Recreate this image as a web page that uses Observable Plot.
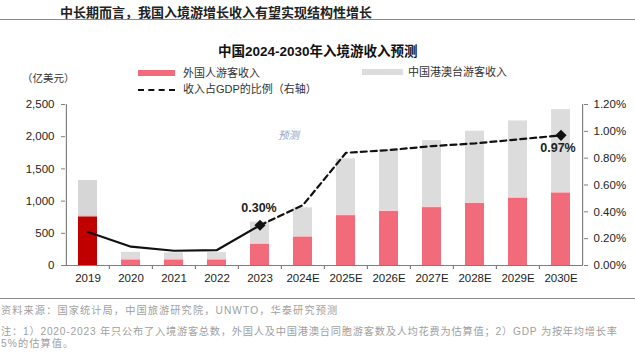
<!DOCTYPE html>
<html><head><meta charset="utf-8">
<script src="https://cdn.jsdelivr.net/npm/d3@7"></script>
<script src="https://cdn.jsdelivr.net/npm/@observablehq/plot@0.6"></script>
<style>
html,body{margin:0;padding:0;background:#fff;}
#wrap{position:relative;width:635px;height:356px;overflow:hidden;font-family:"Liberation Sans",Arial,"Noto Sans CJK SC",sans-serif;}
#wrap svg.chart{position:absolute;left:0;top:0;}
.t{position:absolute;white-space:nowrap;line-height:1;}
</style></head>
<body><div id="wrap"></div>
<script>
const years = ["2019","2020","2021","2022","2023","2024E","2025E","2026E","2027E","2028E","2029E","2030E"];
const foreign = [770,100,100,100,345,456,790,855,915,980,1060,1140];
const hmt = [550,105,97,100,330,440,865,940,1025,1105,1185,1280];
const gdpShare = [0.25,0.14,0.11,0.115,0.30,0.45,0.84,0.86,0.89,0.91,0.94,0.97];
const leftTicks = [0,500,1000,1500,2000,2500];
const rightTicks = [0,0.2,0.4,0.6,0.8,1.0,1.2];
const labelIdx = [4,11];

const W = 635, H = 356;
const mL = 65, mR = 52, mT = 104, mB = 91;
const bw = (W - mL - mR) / years.length;
const yMax = 2500, pMax = 1.2;
const toY = p => p / pMax * yMax;

const redC = "#f26b7a", darkRed = "#c00000", grayC = "#dcdcdc", gray19 = "#d6d6d6";

const bars = [];
years.forEach((y,i) => {
  bars.push({year:y, key:0, value:foreign[i], fill: i===0 ? darkRed : redC});
  bars.push({year:y, key:1, value:hmt[i], fill: i===0 ? gray19 : grayC});
});
const pts = years.map((y,i) => ({year:y, v: toY(gdpShare[i]), p: gdpShare[i]}));
const solid = pts.slice(0,5);
const dashed = pts.slice(4);
const labeled = labelIdx.map(i => pts[i]);
const fmtP = d => d.p.toFixed(2) + "%";

const axisColor = "#7f7f7f";
const chart = Plot.plot({
  width: W, height: H,
  marginLeft: mL, marginRight: mR, marginTop: mT, marginBottom: mB,
  style: {fontFamily: '"Liberation Sans", Arial, sans-serif', fontSize: "11.5px", color: "#222", background: "transparent"},
  x: {domain: years, padding: 0, axis: null},
  y: {domain: [0, yMax], axis: null},
  color: {type: "identity"},
  marks: [
    Plot.barY(bars, {x: "year", y: "value", fill: "fill", order: "key", insetLeft: 12, insetRight: 12}),
    Plot.tickY(years.map((y,i)=>({year:y, v:foreign[i]})), {x: "year", y: "v", stroke: "#fbd0d2", strokeWidth: 1.2, insetLeft: 12, insetRight: 12}),
    Plot.ruleY([0], {stroke: axisColor, strokeWidth: 1.2}),
    Plot.ruleX([years[0]], {dx: -bw/2, y1: 0, y2: yMax, stroke: axisColor, strokeWidth: 1.2}),
    Plot.ruleX([years[years.length-1]], {dx: bw/2, y1: 0, y2: yMax, stroke: axisColor, strokeWidth: 1.2}),
    Plot.ruleX(years.slice(1), {dx: -bw/2, y1: 0, y2: -62, stroke: axisColor, strokeWidth: 1.2}),
    Plot.axisY(leftTicks, {anchor: "left", label: null, tickSize: 4, tickPadding: 7, stroke: axisColor, tickFormat: d => d3.format(",")(d), fill: "#222", fontSize: 11.5}),
    Plot.axisY(rightTicks.map(toY), {anchor: "right", label: null, tickSize: 4, tickPadding: 6, stroke: axisColor, tickFormat: d => (d / yMax * pMax).toFixed(2) + "%", fill: "#222", fontSize: 11.5}),
    Plot.axisX(years, {anchor: "bottom", label: null, tickSize: 0, tickPadding: 8, fill: "#222", fontSize: 11.5}),
    Plot.line(solid, {x: "year", y: "v", stroke: "#111", strokeWidth: 2.2}),
    Plot.line(dashed, {x: "year", y: "v", stroke: "#111", strokeWidth: 2.2, strokeDasharray: "6,4"}),
    Plot.dot(labeled, {x: "year", y: "v", symbol: "diamond2", r: 5, fill: "#111", stroke: "none"}),
    Plot.text([labeled[0]], {x: "year", y: "v", text: fmtP, dy: -17, dx: -1, fontWeight: "bold", fontSize: 12.5, fill: "#222"}),
    Plot.text([labeled[1]], {x: "year", y: "v", text: fmtP, dy: 13, dx: -3, fontWeight: "bold", fontSize: 12.5, fill: "#222"})
  ]
});
chart.classList.add("chart");
const wrap = document.getElementById("wrap");
wrap.appendChild(chart);

function addText(txt, css){
  const d = document.createElement("div");
  d.className = "t";
  d.textContent = txt;
  Object.assign(d.style, css);
  wrap.appendChild(d);
  return d;
}
function addBox(css){
  const d = document.createElement("div");
  d.style.position = "absolute";
  Object.assign(d.style, css);
  wrap.appendChild(d);
}
const cjk = '"Noto Sans CJK SC",sans-serif';
// Header
addText("中长期而言，我国入境游增长收入有望实现结构性增长", {left:"60px", top:"5px", fontSize:"13px", fontWeight:"bold", color:"#222", fontFamily:cjk});
addBox({left:"0px", top:"19px", width:"635px", height:"0px", borderTop:"1.5px solid #8a8a8a"});
// Chart title
addText("中国2024-2030年入境游收入预测", {left:"218px", top:"45px", fontSize:"13.5px", fontWeight:"bold", color:"#111"});
// Legend
addBox({left:"138px", top:"70px", width:"37px", height:"6px", background:redC});
addText("外国人游客收入", {left:"183px", top:"67px", fontSize:"11px", color:"#333", fontFamily:cjk});
addBox({left:"362px", top:"69px", width:"41px", height:"6px", background:grayC});
addText("中国港澳台游客收入", {left:"408px", top:"66px", fontSize:"11px", color:"#333", fontFamily:cjk});
addBox({left:"138px", top:"89px", width:"37px", height:"0px", borderTop:"2px dashed #111"});
addText("收入占GDP的比例（右轴）", {left:"183px", top:"84px", fontSize:"11px", color:"#333"});
addText("（亿美元）", {left:"22px", top:"73px", fontSize:"10.5px", color:"#333", fontFamily:cjk});
// forecast note
addText("预测", {left:"278px", top:"130px", fontSize:"10.5px", fontStyle:"italic", color:"#8fa6c6", fontFamily:cjk});
// Footer
addBox({left:"0px", top:"298px", width:"635px", height:"0px", borderTop:"1.5px solid #8a8a8a"});
const fcss = {fontSize:"10.2px", color:"#a0a0a0", letterSpacing:"1.1px"};
addText("资料来源：国家统计局，中国旅游研究院，UNWTO，华泰研究预测", Object.assign({left:"1px", top:"306px"}, fcss));
addText("注：1）2020-2023 年只公布了入境游客总数，外国人及中国港澳台同胞游客数及人均花费为估算值；2）GDP 为按年均增长率", Object.assign({left:"1px", top:"327px"}, fcss, {letterSpacing:"0.8px"}));
addText("5%的估算值。", Object.assign({left:"1px", top:"339px"}, fcss));
</script></body></html>
